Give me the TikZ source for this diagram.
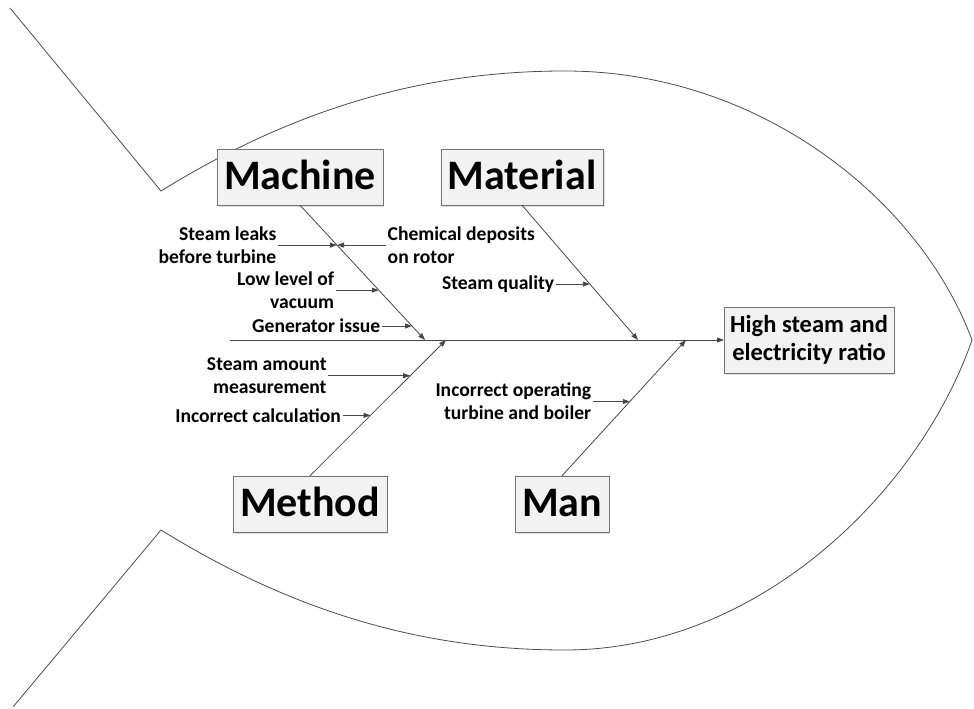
\documentclass[tikz,border=0pt]{standalone}
\usepackage{fontspec}
\setmainfont{Carlito}
\usetikzlibrary{arrows.meta,positioning,shadows,calc}

\begin{document}
\begin{tikzpicture}
[x=1pt,y=-1pt,>={Triangle[length=7pt,width=5pt]},
 fish/.style={draw=black!70,line width=0.8pt},
 bone/.style={draw=black!72,line width=0.8pt},
 cat/.style={draw=black!55,fill=black!5,minimum height=56pt,inner xsep=7pt,
   text height=28pt,text depth=4pt,
   drop shadow={shadow xshift=1.5pt,shadow yshift=-1.5pt,opacity=0.25},
   font=\fontsize{42}{46}\selectfont\bfseries},
 effect/.style={draw=black!55,fill=black!5,minimum height=66pt,inner xsep=6pt,align=center,
   drop shadow={shadow xshift=1.5pt,shadow yshift=-1.5pt,opacity=0.25},
   font=\fontsize{24.5}{28}\selectfont\bfseries},
 cause/.style={inner sep=1.5pt,font=\fontsize{19.6}{22.7}\selectfont\bfseries}]
  \useasboundingbox (0,0) rectangle (974,709);
%
  \draw[fish] (10,8) -- (161,191) .. controls (300,105) and (430,71) .. (565,71)
    .. controls (760,71) and (920,200) .. (972,340)
    .. controls (920,490) and (760,650) .. (565,650)
    .. controls (430,650) and (300,616) .. (161,530) -- (13,707);
%
  \node[effect,anchor=west] (effect) at (724,340) {High steam and\\electricity ratio};
  \node[cat] (machine) at (300,177) {Machine};
  \node[cat] (material) at (522,177) {Material};
  \node[cat] (method) at (310,504) {Method};
  \node[cat] (man) at (562,504) {Man};
%
  \coordinate (head) at (230,340);
  \coordinate (jmachine) at (425,340);
  \coordinate (jmethod) at (446,340);
  \coordinate (jmaterial) at (638,340);
  \coordinate (jman) at (686,340);
  \draw[bone,->] (head) -- (effect);
  \draw[bone,->] (machine.south) -- (jmachine);
  \draw[bone,->] (material.south) -- (jmaterial);
  \draw[bone,->] (method.north) -- (jmethod);
  \draw[bone,->] (man.north) -- (jman);
%
  \coordinate (p1) at ($(machine.south)!0.296!(jmachine)$);
  \coordinate (p2) at ($(machine.south)!0.63!(jmachine)$);
  \coordinate (p3) at ($(machine.south)!0.896!(jmachine)$);
  \coordinate (p4) at ($(material.south)!0.585!(jmaterial)$);
  \coordinate (p5) at ($(method.north)!0.737!(jmethod)$);
  \coordinate (p6) at ($(method.north)!0.445!(jmethod)$);
  \coordinate (p7) at ($(man.north)!0.547!(jman)$);
%
  \node[cause,align=right,left=59pt of p1] (c1) {Steam leaks\\before turbine};
  \node[cause,align=left,right=49pt of p1] (c2) {Chemical deposits\\on rotor};
  \node[cause,align=right,left=43pt of p2] (c3) {Low level of\\vacuum};
  \node[cause,left=30pt of p3] (c4) {Generator issue};
  \node[cause,left=34pt of p4] (c5) {Steam quality};
  \node[cause,align=right,left=82pt of p5] (c6) {Steam amount\\measurement};
  \node[cause,left=28pt of p6] (c7) {Incorrect calculation};
  \node[cause,align=right,left=37pt of p7] (c8) {Incorrect operating\\turbine and boiler};
%
  \draw[bone,->] (c1) -- (p1);
  \draw[bone,->] (c2) -- (p1);
  \draw[bone,->] (c3) -- (p2);
  \draw[bone,->] (c4) -- (p3);
  \draw[bone,->] (c5) -- (p4);
  \draw[bone,->] (c6) -- (p5);
  \draw[bone,->] (c7) -- (p6);
  \draw[bone,->] (c8) -- (p7);
\end{tikzpicture}
\end{document}
